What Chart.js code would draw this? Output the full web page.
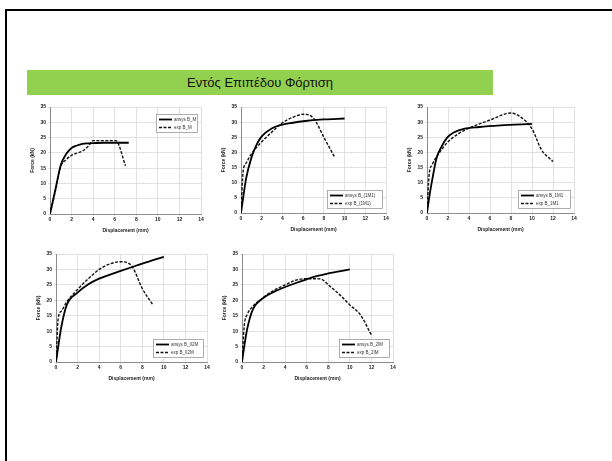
<!DOCTYPE html>
<html lang="el">
<head>
<meta charset="utf-8">
<title>Εντός Επιπέδου Φόρτιση</title>
<script src="https://cdn.jsdelivr.net/npm/chart.js@4.4.1/dist/chart.umd.min.js"></script>
<style>
    html, body { margin: 0; padding: 0; background: #fff; }
    body { width: 612px; height: 461px; position: relative; overflow: hidden; font-family: "Liberation Sans", Arial, sans-serif; }
    .frame { position: absolute; left: 5px; top: 9px; width: 620px; height: 470px; border-left: 2px solid #000; border-top: 2px solid #000; }
    .banner { position: absolute; left: 27px; top: 70px; width: 466px; height: 25px; background: #92d050; color: #111; font-size: 13px; line-height: 25px; text-align: center; }
    .plot { position: absolute; }
</style>
</head>
<body>
<div class="frame"></div>
<div class="banner">Εντός Επιπέδου Φόρτιση</div>
<canvas id="cB_M" class="plot"></canvas>
<canvas id="cB_1M1a" class="plot"></canvas>
<canvas id="cB_1M1b" class="plot"></canvas>
<canvas id="cB_II2M" class="plot"></canvas>
<canvas id="cB_2IM" class="plot"></canvas>
<script>
(function () {
    'use strict';

    // tick values shared by every panel
    var xTicks = [0, 2, 4, 6, 8, 10, 12, 14];
    var yTicks = [0, 5, 10, 15, 20, 25, 30, 35];

    // B_M
    var bmAnsysX = [0, 0.5, 1, 1.5, 2, 2.5, 3, 3.5, 4, 5, 6, 7.3];
    var bmAnsysY = [0, 8, 16, 19.6, 21.6, 22.4, 22.9, 23.1, 23.2, 23.3, 23.3, 23.3];
    var bmExpX = [0, 0.5, 1, 1.5, 2, 3, 3.5, 4, 6.1, 7];
    var bmExpY = [0, 7.5, 15.5, 17.8, 19.2, 20.6, 22, 24, 24, 15.8];

    // B_(1M1)
    var b1aAnsysX = [0, 0.25, 0.5, 1, 1.5, 2, 3, 4, 5, 6, 8, 10];
    var b1aAnsysY = [0, 6, 11.5, 18.2, 22.5, 25.3, 28, 29.2, 29.8, 30.3, 30.9, 31.2];
    var b1aExpX = [0, 0.2, 0.5, 1, 2, 3, 4, 5, 6, 7, 8, 9];
    var b1aExpY = [0, 13.5, 16.5, 19.5, 23.5, 26.8, 29.8, 31.6, 32.6, 31.3, 25, 18.7];

    // B_1M1
    var b1bAnsysX = [0, 0.25, 0.5, 0.9, 1.4, 1.9, 2.5, 3.5, 5, 7, 10];
    var b1bAnsysY = [0, 6, 11, 18, 22, 24.8, 26.5, 27.8, 28.4, 28.9, 29.4];
    var b1bExpX = [0, 0.2, 0.5, 1, 2, 3, 4, 6, 8, 9, 10, 10.9, 12];
    var b1bExpY = [0, 12.5, 16, 19, 23.5, 26.2, 28, 30.7, 33, 31.5, 27.8, 20.9, 17];

    // B_II2M
    var b2aAnsysX = [0, 0.25, 0.5, 1, 2, 3, 4, 5, 6, 7, 8, 9, 10];
    var b2aAnsysY = [0, 6, 11.5, 18.5, 22.5, 25.2, 27, 28.3, 29.5, 30.7, 31.9, 33, 34.1];
    var b2aExpX = [0, 0.2, 0.5, 1, 2, 3, 4, 5, 6, 7, 8, 9];
    var b2aExpY = [0, 14, 16.5, 19.5, 23.5, 27, 30, 31.8, 32.5, 31.2, 23.8, 18.4];

    // B_2IM
    var b2bAnsysX = [0, 0.25, 0.5, 1, 2, 3, 4, 5, 6, 7, 8, 9, 10];
    var b2bAnsysY = [0, 6, 11, 17, 20.8, 22.8, 24.3, 25.6, 26.8, 27.9, 28.7, 29.4, 30];
    var b2bExpX = [0, 0.2, 0.5, 1, 2, 3, 4, 5, 6, 7, 7.4, 8, 9, 10, 11, 12];
    var b2bExpY = [0, 11.5, 15.5, 18, 21, 23.3, 25, 26.5, 27, 27, 26.8, 25, 22, 18.5, 15.2, 8.7];

    var AXIS_W = 20, AXIS_H = 20, PAD_T = 7, PAD_R = 5;
    var tickFont = { family: '"Liberation Sans", Arial, sans-serif', size: 5, weight: 'bold' };

    var pts = function (xs, ys) {
        return xs.map(function (x, i) { return { x: x, y: ys[i] }; });
    };

    // legend drawn as a boxed inset inside the plot area
    var insetLegend = {
        id: 'insetLegend',
        afterDraw: function (chart, args, opts) {
            var ctx = chart.ctx, area = chart.chartArea;
            var w = opts.width, h = 19;
            var x = area.right - w - 3;
            var y = opts.corner === 'top' ? area.top + 7 : area.bottom - h - 4;
            ctx.save();
            ctx.fillStyle = '#fff';
            ctx.fillRect(x, y, w, h);
            ctx.strokeStyle = '#9a9a9a';
            ctx.lineWidth = 0.8;
            ctx.strokeRect(x + 0.5, y + 0.5, w - 1, h - 1);
            ctx.font = '4.5px "Liberation Sans", Arial, sans-serif';
            ctx.textBaseline = 'middle';
            chart.data.datasets.forEach(function (ds, i) {
                var ly = y + 5.5 + i * 8;
                ctx.strokeStyle = ds.borderColor;
                ctx.lineWidth = ds.borderWidth;
                ctx.setLineDash(ds.borderDash || []);
                ctx.beginPath();
                ctx.moveTo(x + 3, ly);
                ctx.lineTo(x + 16, ly);
                ctx.stroke();
                ctx.setLineDash([]);
                ctx.fillStyle = '#333';
                ctx.fillText(ds.label, x + 18, ly);
            });
            ctx.restore();
        }
    };

    var mk = function (id, box, name, ax, ay, ex, ey, corner, legW) {
        var el = document.getElementById(id);
        var w = box.r - box.l + AXIS_W + PAD_R;
        var h = box.b - box.t + AXIS_H + PAD_T;
        el.style.left = (box.l - AXIS_W) + 'px';
        el.style.top = (box.t - PAD_T) + 'px';
        el.style.width = w + 'px';
        el.style.height = h + 'px';
        el.width = w;
        el.height = h;
        new Chart(el, {
            type: 'line',
            data: {
                datasets: [
                    { label: 'ansys ' + name, data: pts(ax, ay), borderColor: '#000', borderWidth: 1.8, pointRadius: 0, cubicInterpolationMode: 'monotone' },
                    { label: 'exp ' + name, data: pts(ex, ey), borderColor: '#111', borderWidth: 1.4, borderDash: [3, 1.5], pointRadius: 0, cubicInterpolationMode: 'monotone' }
                ]
            },
            options: {
                responsive: false,
                animation: false,
                devicePixelRatio: 1,
                layout: { padding: { top: PAD_T, right: PAD_R, left: 0, bottom: 0 } },
                plugins: {
                    legend: { display: false },
                    tooltip: { enabled: false },
                    insetLegend: { corner: corner, width: legW }
                },
                scales: {
                    x: {
                        type: 'linear', min: 0, max: 14,
                        afterBuildTicks: function (s) { s.ticks = xTicks.map(function (v) { return { value: v }; }); },
                        afterFit: function (s) { s.height = AXIS_H; },
                        ticks: { font: tickFont, color: '#222', padding: 1, maxRotation: 0 },
                        grid: { color: '#d9d9d9', lineWidth: 0.8, tickLength: 2 },
                        border: { color: '#8c8c8c' },
                        title: { display: true, text: 'Displacement (mm)', font: tickFont, color: '#222', padding: { top: 1, bottom: 0 } }
                    },
                    y: {
                        min: 0, max: 35,
                        afterBuildTicks: function (s) { s.ticks = yTicks.map(function (v) { return { value: v }; }); },
                        afterFit: function (s) { s.width = AXIS_W; },
                        ticks: { font: tickFont, color: '#222', padding: 2 },
                        grid: { color: '#d9d9d9', lineWidth: 0.8, tickLength: 2 },
                        border: { color: '#8c8c8c' },
                        title: { display: true, text: 'Force (kN)', font: tickFont, color: '#222', padding: { top: 0, bottom: 1 } }
                    }
                }
            },
            plugins: [insetLegend]
        });
    };

    mk('cB_M', { l: 50, r: 201, t: 107, b: 214 }, 'B_M', bmAnsysX, bmAnsysY, bmExpX, bmExpY, 'top', 42);
    mk('cB_1M1a', { l: 241, r: 386, t: 107, b: 213 }, 'B_(1M1)', b1aAnsysX, b1aAnsysY, b1aExpX, b1aExpY, 'bottom', 56);
    mk('cB_1M1b', { l: 427, r: 574, t: 107, b: 213 }, 'B_1M1', b1bAnsysX, b1bAnsysY, b1bExpX, b1bExpY, 'bottom', 53);
    mk('cB_II2M', { l: 56, r: 207, t: 254, b: 362 }, 'B_II2M', b2aAnsysX, b2aAnsysY, b2aExpX, b2aExpY, 'bottom', 51);
    mk('cB_2IM', { l: 242, r: 393, t: 254, b: 362 }, 'B_2IM', b2bAnsysX, b2bAnsysY, b2bExpX, b2bExpY, 'bottom', 51);
})();
</script>
</body>
</html>
